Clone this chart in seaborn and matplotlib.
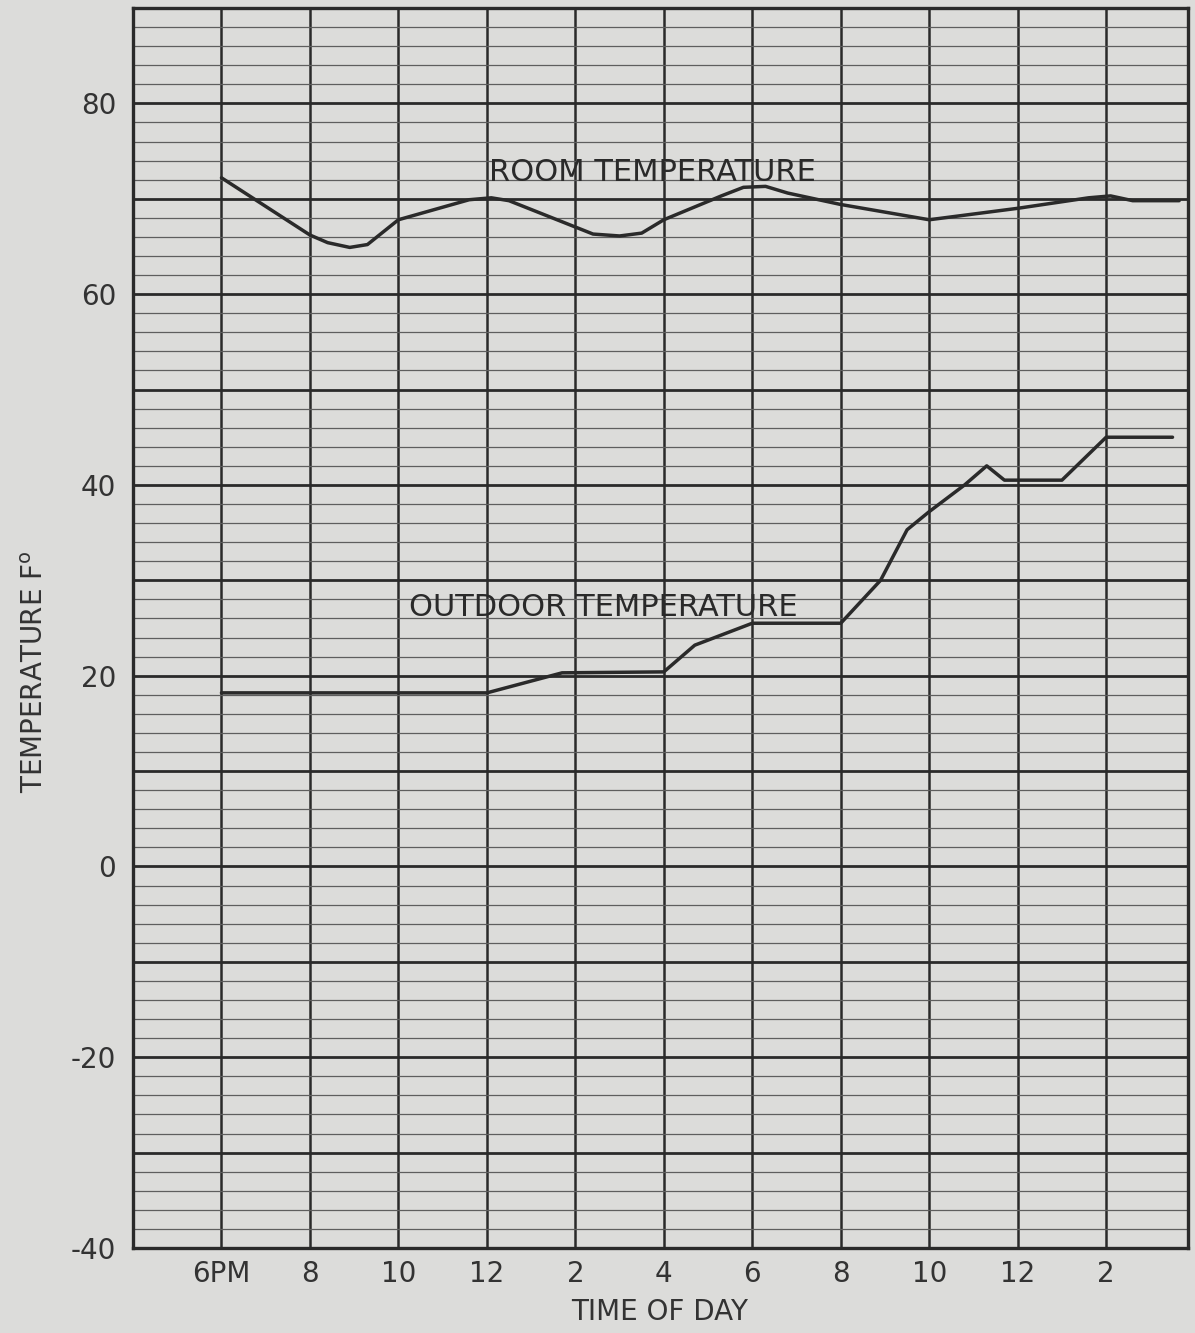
import numpy as np
import pandas as pd
import matplotlib
matplotlib.use("Agg")
import matplotlib.pyplot as plt
import seaborn as sns

# hours after 6 PM
room_hours = [0, 2, 2.4, 2.9, 3.3, 4, 5.6, 6.1, 6.5, 8.4, 9.0, 9.5, 10, 11.3, 11.8, 12.3, 12.8, 14, 16, 18, 19.6, 20.1, 20.6, 21.65]
room_temp = [72.2, 66.2, 65.4, 64.9, 65.2, 67.8, 69.9, 70.1, 69.8, 66.3, 66.1, 66.4, 67.8, 70.3, 71.2, 71.3, 70.6, 69.4, 67.8, 69.0, 70.1, 70.3, 69.8, 69.8]

out_hours = [0, 6, 7.7, 10, 10.7, 12, 14, 14.9, 15.5, 16, 16.8, 17.3, 17.7, 19, 20, 21.5]
out_temp = [18.2, 18.2, 20.3, 20.4, 23.2, 25.5, 25.5, 30.0, 35.3, 37.2, 40.0, 42.0, 40.5, 40.5, 45.0, 45.0]

x_ticks = [0, 2, 4, 6, 8, 10, 12, 14, 16, 18, 20]
x_labels = ["6PM", "8", "10", "12", "2", "4", "6", "8", "10", "12", "2"]
y_ticks = [-40, -30, -20, -10, 0, 10, 20, 30, 40, 50, 60, 70, 80]

paper = "#dcdcda"
ink = "#2a2a2a"

sns.set_theme(style="white", rc={"axes.facecolor": paper, "figure.facecolor": paper})
plt.rcParams["font.family"] = ["DejaVu Sans"]

room = pd.DataFrame({"hour": room_hours, "temp": room_temp})
outdoor = pd.DataFrame({"hour": out_hours, "temp": out_temp})

fig = plt.figure(figsize=(11.95, 13.33), dpi=100)
ax = fig.add_axes([133 / 1195, 85 / 1333, 1055 / 1195, 1240 / 1333])

# grid like the graph paper
ax.set_xlim(-2, 21.85)
ax.set_ylim(-40, 90)
ax.set_xticks(x_ticks)
ax.set_xticklabels(x_labels)
ax.set_yticks(y_ticks)
ax.set_yticklabels([str(v) if v % 20 == 0 else "" for v in y_ticks])
ax.set_yticks(np.arange(-40, 91, 2), minor=True)
ax.grid(axis="x", which="major", color=ink, linewidth=1.8)
ax.grid(axis="y", which="major", color=ink, linewidth=2.0)
ax.grid(axis="y", which="minor", color="#5e5e5e", linewidth=0.9)
ax.tick_params(which="both", length=0)
ax.tick_params(axis="x", labelsize=20, pad=9, colors="#333333")
ax.tick_params(axis="y", labelsize=20, pad=12, colors="#333333")
for s in ax.spines.values():
    s.set_color(ink)
    s.set_linewidth(2.4)
ax.set_axisbelow(True)

sns.lineplot(data=room, x="hour", y="temp", ax=ax, color=ink, linewidth=2.5)
sns.lineplot(data=outdoor, x="hour", y="temp", ax=ax, color=ink, linewidth=2.5)
ax.set_xlabel("")
ax.set_ylabel("")

ax.text(6.05, 71.9, "ROOM TEMPERATURE", fontsize=22, color=ink, ha="left", va="baseline")
ax.text(4.25, 26.3, "OUTDOOR TEMPERATURE", fontsize=22, color=ink, ha="left", va="baseline")

fig.text(35 / 1195, 1 - 672 / 1333, r"TEMPERATURE F$^{\mathregular{o}}$", rotation=90,
         fontsize=20, color="#333333", ha="center", va="center")
fig.text(660 / 1195, 1 - 1312 / 1333, "TIME OF DAY", fontsize=20, color="#333333",
         ha="center", va="center")

fig.savefig("out.png", dpi=100, facecolor=paper)
